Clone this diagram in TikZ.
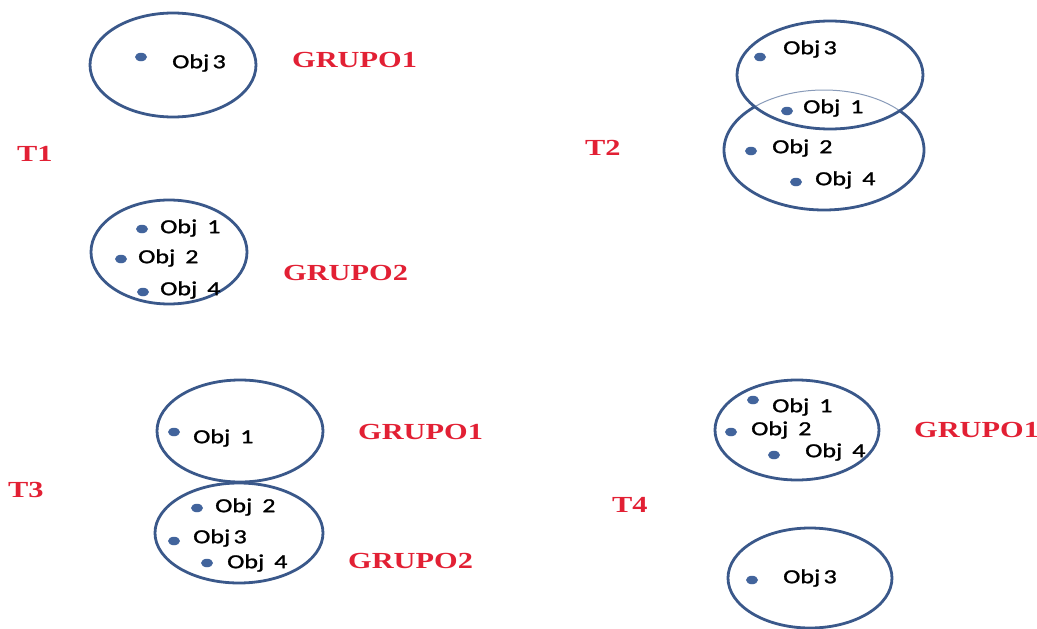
\documentclass[tikz,border=0pt]{standalone}
\usepackage{fontspec}
\newfontfamily\objfont[FakeStretch=1.3, FakeBold=1.2]{Carlito}
\newfontfamily\grupofont[FakeStretch=1.32]{Liberation Serif}
\usetikzlibrary{shapes.geometric,positioning}
\definecolor{ringblue}{RGB}{58,88,138}
\definecolor{dotblue}{RGB}{66,100,156}
\definecolor{grupored}{RGB}{226,32,52}
\tikzset{
    ring/.style 2 args={draw=ringblue, line width=2.8pt, ellipse, inner sep=0pt, minimum width=#1pt, minimum height=#2pt},
    objdot/.style={ellipse, fill=dotblue, minimum width=12pt, minimum height=8.5pt, inner sep=0pt},
    objlabel/.style={anchor=west, inner sep=0pt, font=\objfont\fontsize{20}{20}\selectfont},
    grupolabel/.style={anchor=west, inner sep=0pt, text=grupored, font=\grupofont\bfseries\fontsize{23}{23}\selectfont}
}

\begin{document}
\begin{tikzpicture}[x=1pt, y=-1pt]
    \useasboundingbox (0,0) rectangle (1037,629);

    % T1
    \node[grupolabel] (t1) at (17,154) {T1};
    \node[ring={166}{104}] (t1ga) at (173,65) {};
    \node[ring={156}{104}] (t1gb) at (169,252) {};
    \node[grupolabel] (t1na) at (292,60) {GRUPO1};
    \node[grupolabel] (t1nb) at (283,273) {GRUPO2};
    \node[objdot] (t1d3) at (141,57) {};
    \node[objlabel] (t1o3) at (172,63) {Obj\,3};
    \node[objdot] (t1d1) at (142,229) {};
    \node[objlabel] (t1o1) at (160,228) {Obj\enspace1};
    \node[objdot] (t1d2) at (121,259) {};
    \node[objlabel] (t1o2) at (138,258) {Obj\enspace2};
    \node[objdot] (t1d4) at (143,292) {};
    \node[objlabel] (t1o4) at (160,290) {Obj\enspace4};

    % T2
    \node[grupolabel] (t2) at (585,148) {T2};
    \node[ring={200}{120}, draw=ringblue!60, line width=1pt] (t2gb) at (824,150) {};
    \begin{scope}[even odd rule]
        \clip (0,0) rectangle (1037,629) (830,75) ellipse [x radius=93, y radius=54];
        \node[ring={200}{120}] (t2gbo) at (824,150) {};
    \end{scope}
    \node[ring={186}{108}] (t2ga) at (830,75) {};
    \node[objdot] (t2d3) at (760,57) {};
    \node[objlabel] (t2o3) at (783,49) {Obj\,3};
    \node[objdot] (t2d1) at (787,111) {};
    \node[objlabel] (t2o1) at (803,108) {Obj\enspace1};
    \node[objdot] (t2d2) at (751,151) {};
    \node[objlabel] (t2o2) at (772,148) {Obj\enspace2};
    \node[objdot] (t2d4) at (796,182) {};
    \node[objlabel] (t2o4) at (815,180) {Obj\enspace4};

    % T3
    \node[grupolabel] (t3) at (8,490) {T3};
    \node[ring={166}{102}] (t3ga) at (240,431) {};
    \node[ring={168}{100}] (t3gb) at (239,533) {};
    \node[grupolabel] (t3na) at (358,432) {GRUPO1};
    \node[grupolabel] (t3nb) at (348,561) {GRUPO2};
    \node[objdot] (t3d1) at (174,432) {};
    \node[objlabel] (t3o1) at (193,438) {Obj\enspace1};
    \node[objdot] (t3d2) at (197,508) {};
    \node[objlabel] (t3o2) at (215,507) {Obj\enspace2};
    \node[objdot] (t3d3) at (174,541) {};
    \node[objlabel] (t3o3) at (193,538) {Obj\,3};
    \node[objdot] (t3d4) at (207,563) {};
    \node[objlabel] (t3o4) at (227,563) {Obj\enspace4};

    % T4
    \node[grupolabel] (t4) at (612,505) {T4};
    \node[ring={164}{100}] (t4ga) at (797,430) {};
    \node[ring={164}{100}] (t4gb) at (810,578) {};
    \node[grupolabel] (t4na) at (914,430) {GRUPO1};
    \node[objdot] (t4d1) at (753,400) {};
    \node[objlabel] (t4o1) at (772,407) {Obj\enspace1};
    \node[objdot] (t4d2) at (731,432) {};
    \node[objlabel] (t4o2) at (751,430) {Obj\enspace2};
    \node[objdot] (t4d4) at (774,455) {};
    \node[objlabel] (t4o4) at (805,452) {Obj\enspace4};
    \node[objdot] (t4d3) at (752,580) {};
    \node[objlabel] (t4o3) at (783,578) {Obj\,3};
\end{tikzpicture}
\end{document}
